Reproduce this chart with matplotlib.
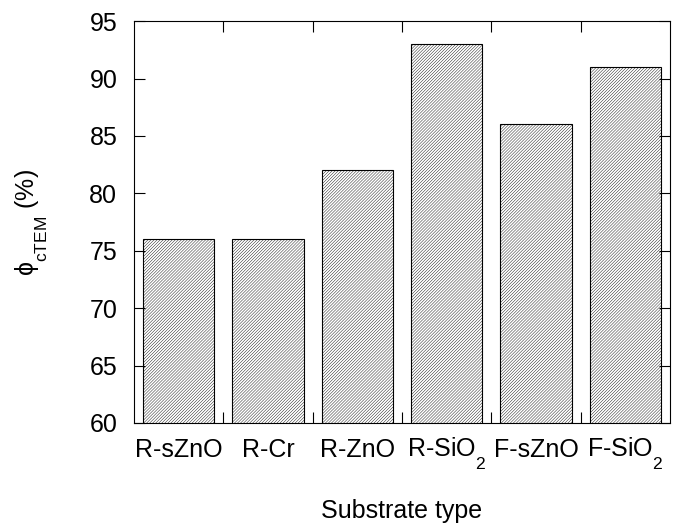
import matplotlib
matplotlib.use("Agg")
import matplotlib.pyplot as plt
import matplotlib._mathtext as _mt
import numpy as np

categories = ["R-sZnO", "R-Cr", "R-ZnO", r"R-SiO$_2$", "F-sZnO", r"F-SiO$_2$"]
values = [76, 76, 82, 93, 86, 91]
yticks = [60, 65, 70, 75, 80, 85, 90, 95]

# lower subscripts as in the reference
_mt.FontConstantsBase.sub1 = 0.95

plt.rcParams['font.family'] = ['Liberation Sans', 'DejaVu Sans']
plt.rcParams['mathtext.fontset'] = 'custom'
plt.rcParams['mathtext.rm'] = 'Liberation Sans'
plt.rcParams['mathtext.it'] = 'Liberation Sans'
plt.rcParams['hatch.color'] = '#a8a8a8'
plt.rcParams['hatch.linewidth'] = 0.3

fig = plt.figure(figsize=(6.73, 5.29), dpi=100)
ax = fig.add_axes([0.199, 0.2004, 0.7965, 0.7596])

x = np.arange(len(categories)) + 0.5
ax.bar(x, values, width=0.8, bottom=0, facecolor='white', edgecolor='black',
       linewidth=0.8, hatch='///////////')
ax.set_xlim(0, len(categories))
ax.set_ylim(60, 95)
ax.set_yticks(yticks)
ax.set_xticks(x)
ax.set_xticklabels(categories)
ax.set_xticks(np.arange(1, len(categories)), minor=True)

ax.tick_params(axis='y', which='both', direction='in', length=8, width=0.8,
               right=True, labelsize=18, pad=12)
ax.tick_params(axis='x', which='major', length=0, labelsize=18, pad=24.5)
ax.tick_params(axis='x', which='minor', direction='in', length=8, width=0.8,
               top=True, bottom=True)
for lbl in ax.get_xticklabels():
    lbl.set_verticalalignment('baseline')
for s in ax.spines.values():
    s.set_linewidth(0.8)

ax.set_xlabel('Substrate type', fontsize=18)
ax.xaxis.set_label_coords(0.5, -0.19)
ax.set_ylabel(r'ϕ$_{\mathregular{cTEM}}$ (%)', fontsize=18)
ax.yaxis.set_label_coords(-0.157, 0.5)

fig.savefig('out.png', dpi=100)
